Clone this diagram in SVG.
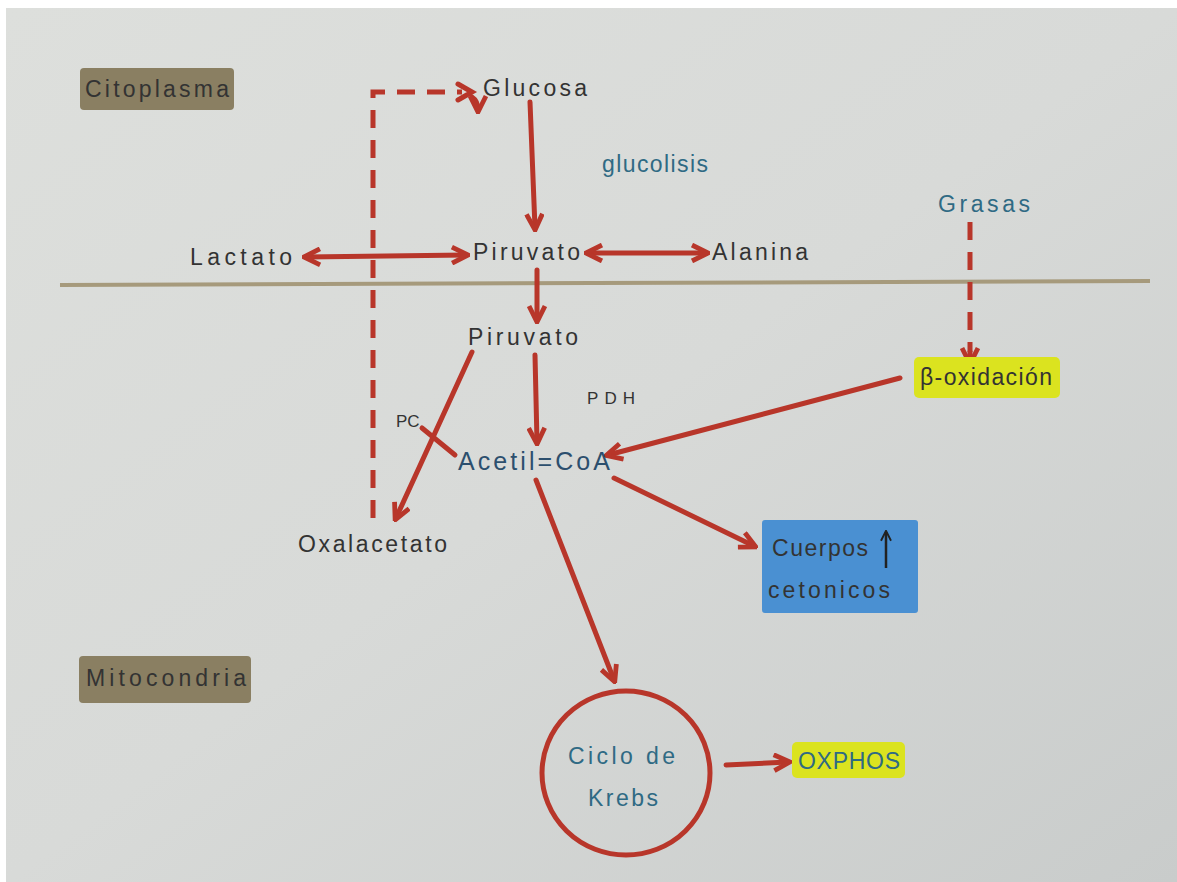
<svg xmlns="http://www.w3.org/2000/svg" width="1177" height="882" viewBox="0 0 1177 882">
<defs>
<linearGradient id="paper" x1="0" y1="0" x2="1" y2="1">
<stop offset="0" stop-color="#dddfdc"/>
<stop offset="0.5" stop-color="#d8dad8"/>
<stop offset="1" stop-color="#c9cccb"/>
</linearGradient>
<marker id="ah" viewBox="0 0 10 10" refX="8" refY="5" markerWidth="4" markerHeight="4" orient="auto-start-reverse" markerUnits="strokeWidth">
<path d="M1,1 L9,5 L1,9" fill="none" stroke="#b8362a" stroke-width="2.4" stroke-linejoin="miter"/>
</marker>
<marker id="ahs" viewBox="0 0 10 10" refX="8" refY="5" markerWidth="5" markerHeight="5" orient="auto" markerUnits="strokeWidth">
<path d="M1,1 L9,5 L1,9" fill="none" stroke="#222" stroke-width="1.5"/>
</marker>
<style>
.t{font-family:"Liberation Sans",Arial,sans-serif;font-size:23px;fill:#333;}
.b{fill:#2f6a84;}
.ac{font-size:25px;fill:#2c4f6e;}
.s{font-size:17px;}
.c{fill:none;stroke:#b8362a;stroke-width:5;stroke-linecap:round;}
.d{stroke-dasharray:18 12;stroke-linecap:butt;}
.lab{fill:#8a7f62;}
.yel{fill:#dbe31f;}
</style>
</defs>
<rect x="0" y="0" width="1177" height="882" fill="#ffffff"/>
<rect x="6" y="8" width="1171" height="874" fill="url(#paper)"/>
<line x1="60" y1="285" x2="1150" y2="281" stroke="#a69a7c" stroke-width="4"/>

<g id="connectors">
<path class="c d" d="M373,518 V92 H462"/>
<path class="c" d="M458,84 L472,92 L458,100"/>
<path class="c" d="M472,97 Q478,101 478,110" marker-end="url(#ah)"/>
<path class="c" d="M530,102 L535,228" marker-end="url(#ah)"/>
<path class="c" d="M306,257 L466,255" marker-start="url(#ah)" marker-end="url(#ah)"/>
<path class="c" d="M588,253 L706,253" marker-start="url(#ah)" marker-end="url(#ah)"/>
<path class="c" d="M537,270 L537,320" marker-end="url(#ah)"/>
<path class="c" d="M535,355 L537,442" marker-end="url(#ah)"/>
<path class="c" d="M472,352 L396,518" marker-end="url(#ah)"/>
<path class="c" d="M422,428 L455,455"/>
<path class="c d" d="M970,222 L970,352"/>
<path class="c" d="M970,352 L970,362" marker-end="url(#ah)"/>
<path class="c" d="M900,378 L608,455" marker-end="url(#ah)"/>
<path class="c" d="M614,478 L754,546" marker-end="url(#ah)"/>
<path class="c" d="M536,480 L614,680" marker-end="url(#ah)"/>
<path class="c" d="M726,765 L788,762" marker-end="url(#ah)"/>
</g>

<g id="citoplasma"><rect class="lab" x="80" y="68" width="154" height="42" rx="4"/><text class="t" x="85" y="97" textLength="144" fill="#222">Citoplasma</text></g>
<g id="mitocondria"><rect class="lab" x="79" y="656" width="172" height="47" rx="4"/><text class="t" x="86" y="686" textLength="160">Mitocondria</text></g>
<g id="glucosa"><text class="t" x="483" y="96" textLength="104">Glucosa</text></g>
<g id="glucolisis"><text class="t b" x="602" y="172" textLength="106">glucolisis</text></g>
<g id="lactato"><text class="t" x="190" y="265" textLength="102">Lactato</text></g>
<g id="piruvato1"><text class="t" x="473" y="260" textLength="107">Piruvato</text></g>
<g id="alanina"><text class="t" x="712" y="260" textLength="96">Alanina</text></g>
<g id="grasas"><text class="t b" x="938" y="212" textLength="92">Grasas</text></g>
<g id="boxidacion"><rect class="yel" x="914" y="357" width="146" height="41" rx="5"/><text class="t" x="920" y="385" textLength="132">β-oxidación</text></g>
<g id="piruvato2"><text class="t" x="468" y="345" textLength="110">Piruvato</text></g>
<g id="pdh"><text class="t s" x="587" y="404" textLength="48">PDH</text></g>
<g id="pc"><text class="t s" x="396" y="427">PC</text></g>
<g id="acetilcoa"><text class="t ac" x="458" y="470" textLength="152">Acetil=CoA</text></g>
<g id="oxalacetato"><text class="t" x="298" y="552" textLength="149">Oxalacetato</text></g>
<g id="cuerpos"><rect x="762" y="520" width="156" height="93" rx="3" fill="#4a90d2"/><text class="t" x="772" y="556" textLength="96">Cuerpos</text><line x1="886" y1="568" x2="886" y2="532" stroke="#222" stroke-width="2.5" marker-end="url(#ahs)"/><text class="t" x="768" y="598" textLength="122">cetonicos</text></g>
<g id="krebs"><ellipse cx="626" cy="773" rx="84" ry="82" fill="none" stroke="#b8362a" stroke-width="5"/><text class="t b" x="568" y="764" textLength="107">Ciclo de</text><text class="t b" x="588" y="806" textLength="70">Krebs</text></g>
<g id="oxphos"><rect class="yel" x="792" y="742" width="113" height="36" rx="5"/><text class="t b" x="798" y="769" textLength="102">OXPHOS</text></g>
</svg>
